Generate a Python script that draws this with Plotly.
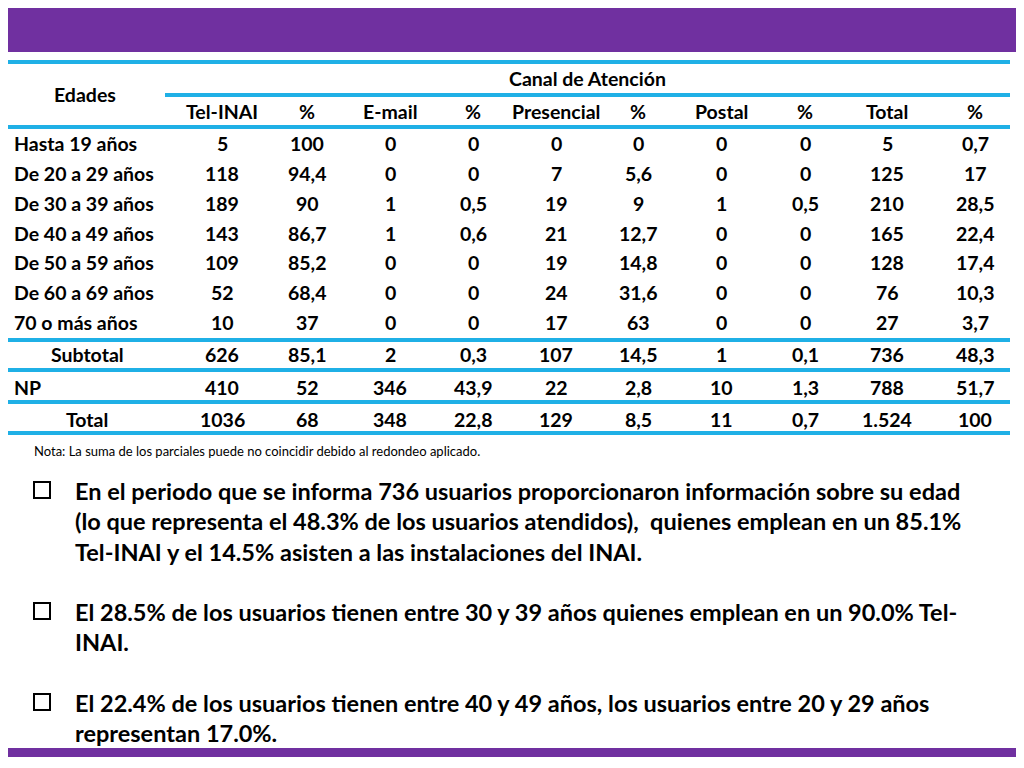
import plotly.graph_objects as go

ages = ["Hasta 19 años", "De 20 a 29 años", "De 30 a 39 años", "De 40 a 49 años",
        "De 50 a 59 años", "De 60 a 69 años", "70 o más años"]
tel = ["5", "118", "189", "143", "109", "52", "10"]
tel_pct = ["100", "94,4", "90", "86,7", "85,2", "68,4", "37"]
email = ["0", "0", "1", "1", "0", "0", "0"]
email_pct = ["0", "0", "0,5", "0,6", "0", "0", "0"]
pres = ["0", "7", "19", "21", "19", "24", "17"]
pres_pct = ["0", "5,6", "9", "12,7", "14,8", "31,6", "63"]
postal = ["0", "0", "1", "0", "0", "0", "0"]
postal_pct = ["0", "0", "0,5", "0", "0", "0", "0"]
total = ["5", "125", "210", "165", "128", "76", "27"]
total_pct = ["0,7", "17", "28,5", "22,4", "17,4", "10,3", "3,7"]

summary_labels = ["Subtotal", "NP", "Total"]
summary_rows = [
    ["626", "85,1", "2", "0,3", "107", "14,5", "1", "0,1", "736", "48,3"],
    ["410", "52", "346", "43,9", "22", "2,8", "10", "1,3", "788", "51,7"],
    ["1036", "68", "348", "22,8", "129", "8,5", "11", "0,7", "1.524", "100"],
]
col_headers = ["Tel-INAI", "%", "E-mail", "%", "Presencial", "%", "Postal", "%", "Total", "%"]

bullets = [
    ["En el periodo que se informa 736 usuarios proporcionaron información sobre su edad",
     "(lo que representa el 48.3% de los usuarios atendidos),  quienes emplean en un 85.1%",
     "Tel-INAI y el 14.5% asisten a las instalaciones del INAI."],
    ["El 28.5% de los usuarios tienen entre 30 y 39 años quienes emplean en un 90.0% Tel-",
     "INAI."],
    ["El 22.4% de los usuarios tienen entre 40 y 49 años, los usuarios entre 20 y 29 años",
     "representan 17.0%."],
]

PURPLE = "#7030A0"
BLUE = "#1FB0E6"
FONT = "Lato"
col_x = [222, 307, 390, 473, 556, 638, 721, 805, 887, 975]

fig = go.Figure()
shapes = []
ann = []

shapes.append(dict(type="rect", x0=-20, x1=1100, y0=-20, y1=52, fillcolor=PURPLE, line_width=0, layer="below"))
shapes.append(dict(type="rect", x0=-20, x1=1100, y0=748, y1=757, fillcolor=PURPLE, line_width=0, layer="below"))
ann.append(dict(x=6, y=27, xanchor="left", yanchor="middle",
                text="10. G<span style='font-size:23px'>RUPO DE</span>  E<span style='font-size:23px'>DADES DE LOS</span> U<span style='font-size:23px'>SUARIOS POR</span> C<span style='font-size:23px'>ANAL DE</span> A<span style='font-size:23px'>TENCIÓN</span>",
                font=dict(family="Liberation Sans", size=30, color="white", weight="bold",
                          shadow="1px 1px 1px #111, -1px -1px 1px #111, 1px -1px 1px #111, -1px 1px 1px #111")))

for y, x0 in [(62, 8), (95, 165), (127, 8), (340, 8), (370, 8), (402, 8), (433, 8)]:
    shapes.append(dict(type="line", x0=x0, x1=1010, y0=y, y1=y, line=dict(color=BLUE, width=4)))

tf = dict(family=FONT, size=19.5, color="black", weight="bold")
ann.append(dict(x=85, y=94, text="Edades", font=tf))
ann.append(dict(x=587, y=78, text="Canal de Atención", font=tf))
for cx, h in zip(col_x, col_headers):
    ann.append(dict(x=cx, y=111, text=h, font=tf))

cols = [tel, tel_pct, email, email_pct, pres, pres_pct, postal, postal_pct, total, total_pct]
row_y = [143, 173, 203, 233, 262, 292, 322]
for i, (lab, ry) in enumerate(zip(ages, row_y)):
    ann.append(dict(x=12, y=ry, text=lab, xanchor="left", font=tf))
    for cx, col in zip(col_x, cols):
        ann.append(dict(x=cx, y=ry, text=col[i], font=tf))

for lab, vals, ry in zip(summary_labels, summary_rows, [354, 387, 419]):
    if lab == "NP":
        ann.append(dict(x=12, y=ry, text=lab, xanchor="left", font=tf))
    else:
        ann.append(dict(x=87, y=ry, text=lab, font=tf))
    for cx, v in zip(col_x, vals):
        ann.append(dict(x=cx, y=ry, text=v, font=tf))

ann.append(dict(x=32, y=451, xanchor="left", text="Nota: La suma de los parciales puede no coincidir debido al redondeo aplicado.",
                font=dict(family=FONT, size=13, color="black")))

bf = dict(family=FONT, size=23.5, color="black", weight="bold")
line_ys = [[491, 521, 552], [612, 642], [703, 733]]
for para, ys in zip(bullets, line_ys):
    shapes.append(dict(type="rect", x0=34, x1=50, y0=ys[0] - 9, y1=ys[0] + 7,
                       line=dict(color="black", width=2)))
    for t, y in zip(para, ys):
        ann.append(dict(x=73, y=y, xanchor="left", text=t, font=bf))

for a in ann:
    a.setdefault("xanchor", "center")
    a.setdefault("yanchor", "middle")
    a["showarrow"] = False
    a["xref"] = "x"
    a["yref"] = "y"
for s in shapes:
    s["xref"] = "x"
    s["yref"] = "y"

fig.update_layout(width=1024, height=768, margin=dict(l=0, r=0, t=0, b=0),
                  paper_bgcolor="white", plot_bgcolor="white",
                  shapes=shapes, annotations=ann, showlegend=False,
                  xaxis=dict(range=[8, 1032], visible=False, fixedrange=True),
                  yaxis=dict(range=[776, 8], visible=False, fixedrange=True))
fig.write_html("out.html", config={"displayModeBar": False})
